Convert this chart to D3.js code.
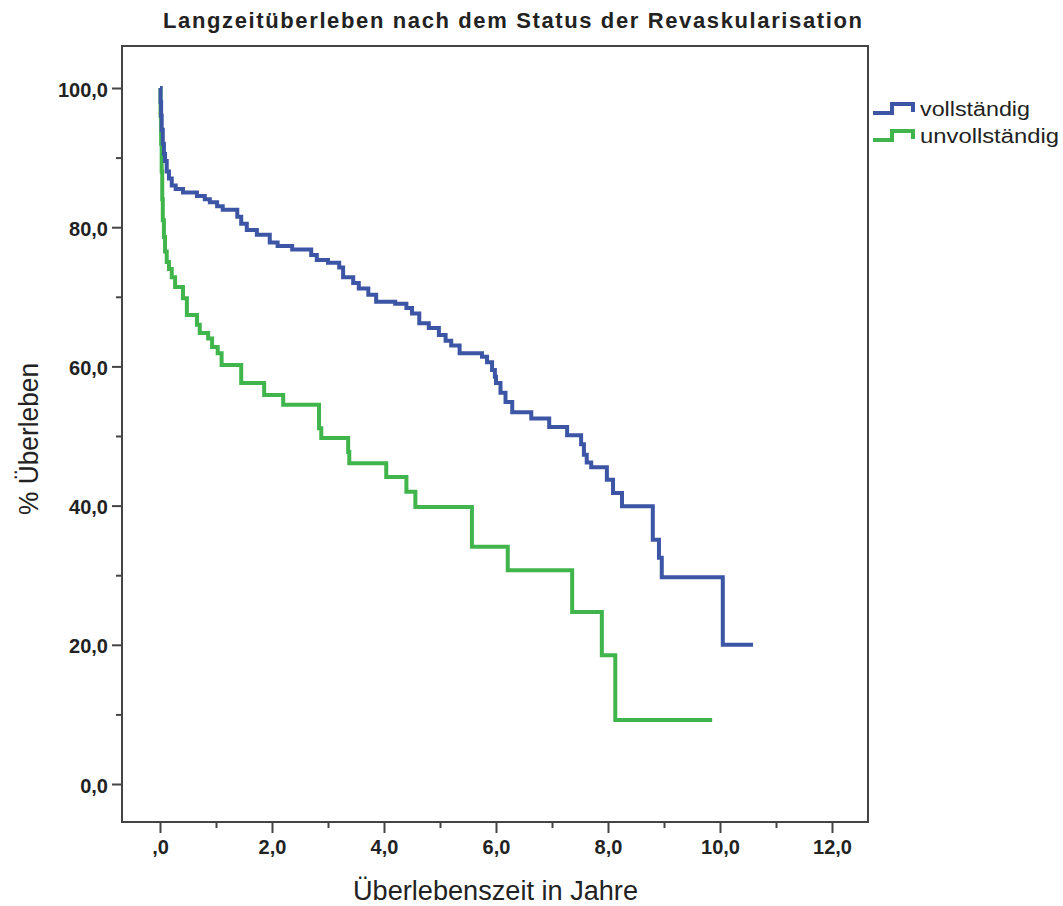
<!DOCTYPE html>
<html>
<head>
<meta charset="UTF-8">
<style>
  body { margin: 0; background: #fff; }
  svg { display: block; }
  text { font-family: "Liberation Sans", Arial, sans-serif; fill: #222; }
</style>
</head>
<body>
<div id="chart"></div>
<script src="https://d3js.org/d3.v7.min.js"></script>
<script>
// Kaplan-Meier steps (time in years, survival in %)
var vollTime = [0.01,0.02,0.03,0.05,0.07,0.09,0.12,0.16,0.21,0.28,0.41,0.66,0.80,0.89,1.02,1.12,1.38,1.45,1.55,1.73,1.96,2.10,2.36,2.70,2.80,3.00,3.20,3.27,3.45,3.55,3.72,3.86,4.20,4.40,4.50,4.63,4.80,4.98,5.10,5.20,5.35,5.75,5.84,5.93,5.98,6.00,6.08,6.17,6.29,6.63,6.95,7.27,7.52,7.57,7.62,7.70,7.98,8.09,8.25,8.80,8.91,8.96,10.05];
var vollSurv = [98,96,94,92,90.5,89.5,88,87,86,85.5,85,84.5,84,83.6,83,82.5,81.5,80.5,79.6,78.9,77.8,77.3,76.8,76,75.3,74.9,74.2,72.8,72,71.2,70.3,69.3,69,68.4,67.6,66.2,65.5,64.5,63.7,63,61.9,61.4,60.6,59.5,58.5,57.6,56.2,54.9,53.4,52.5,51.3,50.1,48.8,47.3,46.2,45.5,43.7,41.8,39.9,35.1,32.5,29.7,20.0];
var vollEnd = 10.59;

var unvollTime = [0.01,0.02,0.03,0.04,0.05,0.07,0.09,0.12,0.16,0.21,0.27,0.41,0.48,0.66,0.71,0.86,0.93,1.03,1.10,1.45,1.86,2.20,2.84,2.88,3.36,3.38,4.04,4.40,4.56,5.57,6.21,7.36,7.89,8.13];
var unvollSurv = [96,92,88,84,81,78.6,76.5,75,74,72.8,71.4,69.8,67.4,66,64.8,64,62.8,61.9,60.2,57.6,55.9,54.5,51.1,49.7,47.7,46.1,44.1,42,39.8,34.1,30.7,24.7,18.5,9.2];
var unvollEnd = 9.86;

var groups = ["vollständig", "unvollständig"];
var groupColors = ["#3c55a5", "#40b54b"];

var xTicks = [0, 2, 4, 6, 8, 10, 12];
var xTickLabels = [",0", "2,0", "4,0", "6,0", "8,0", "10,0", "12,0"];
var xMinor = [1, 3, 5, 7, 9, 11];
var yTicks = [0, 20, 40, 60, 80, 100];
var yTickLabels = ["0,0", "20,0", "40,0", "60,0", "80,0", "100,0"];
var yMinor = [10, 30, 50, 70, 90];

var width = 1063, height = 906;
var frame = {left: 122, top: 46, right: 868, bottom: 822};

var svg = d3.select("#chart").append("svg")
  .attr("width", width)
  .attr("height", height);

var x = d3.scaleLinear().domain([0, 12]).range([160, 832]);
var y = d3.scaleLinear().domain([0, 100]).range([784, 88]);

// frame
svg.append("rect")
  .attr("x", frame.left).attr("y", frame.top)
  .attr("width", frame.right - frame.left)
  .attr("height", frame.bottom - frame.top)
  .attr("fill", "none")
  .attr("stroke", "#444")
  .attr("stroke-width", 2);

function styleAxis(g) {
  g.select(".domain").remove();
  g.selectAll("line").attr("stroke", "#444").attr("stroke-width", 2);
  g.selectAll("text")
    .attr("font-family", "'Liberation Sans', Arial, sans-serif")
    .attr("font-weight", "bold")
    .attr("font-size", 20)
    .attr("fill", "#222");
}

// x axis
svg.append("g")
  .attr("transform", "translate(0," + frame.bottom + ")")
  .call(d3.axisBottom(x).tickValues(xTicks).tickSize(11).tickPadding(7)
    .tickFormat(function(d, i) { return xTickLabels[i]; }))
  .call(styleAxis);
svg.append("g")
  .attr("transform", "translate(0," + frame.bottom + ")")
  .call(d3.axisBottom(x).tickValues(xMinor).tickSize(6).tickFormat(""))
  .call(styleAxis);

// y axis
svg.append("g")
  .attr("transform", "translate(" + frame.left + ",0)")
  .call(d3.axisLeft(y).tickValues(yTicks).tickSize(10).tickPadding(4)
    .tickFormat(function(d, i) { return yTickLabels[i]; }))
  .call(styleAxis)
  .call(function(g) { g.selectAll("text").attr("dy", "0.4em"); });
svg.append("g")
  .attr("transform", "translate(" + frame.left + ",0)")
  .call(d3.axisLeft(y).tickValues(yMinor).tickSize(6).tickFormat(""))
  .call(styleAxis);

// squeeze text a bit, the original type looks condensed
function squeeze(sel, w) {
  sel.attr("textLength", w).attr("lengthAdjust", "spacingAndGlyphs");
}

// title
svg.append("text")
  .attr("x", 163).attr("y", 28)
  .attr("font-weight", "bold")
  .attr("font-size", 22)
  .attr("textLength", 699)
  .attr("lengthAdjust", "spacing")
  .text("Langzeitüberleben nach dem Status der Revaskularisation");

// axis titles
svg.append("text")
  .attr("x", 353).attr("y", 900)
  .attr("font-size", 27)
  .call(squeeze, 285)
  .text("Überlebenszeit in Jahre");

svg.append("text")
  .attr("transform", "translate(38,515) rotate(-90)")
  .attr("font-size", 27)
  .call(squeeze, 152)
  .text("% Überleben");

// curves
var line = d3.line()
  .x(function(d) { return x(d[0]); })
  .y(function(d) { return y(d[1]); })
  .curve(d3.curveStepAfter);

function stepPoints(times, surv, end) {
  var pts = [[0, 100]];
  times.forEach(function(t, i) { pts.push([t, surv[i]]); });
  pts.push([end, surv[surv.length - 1]]);
  return pts;
}

var series = [
  stepPoints(vollTime, vollSurv, vollEnd),
  stepPoints(unvollTime, unvollSurv, unvollEnd)
];

// green drawn first so blue sits on top at the start
[1, 0].forEach(function(i) {
  svg.append("path")
    .datum(series[i])
    .attr("d", line)
    .attr("fill", "none")
    .attr("stroke", groupColors[i])
    .attr("stroke-width", 4);
});

// legend
var legend = svg.append("g").attr("transform", "translate(873,113)");
groups.forEach(function(name, i) {
  var gy = i * 27;
  legend.append("path")
    .attr("d", "M0," + gy + "H19V" + (gy - 9) + "H40V" + (gy - 1))
    .attr("fill", "none")
    .attr("stroke", groupColors[i])
    .attr("stroke-width", 4);
  legend.append("text")
    .attr("x", 47).attr("y", gy + 3)
    .attr("font-size", 20)
    .call(squeeze, i === 0 ? 110 : 139)
    .text(name);
});
</script>
</body>
</html>
